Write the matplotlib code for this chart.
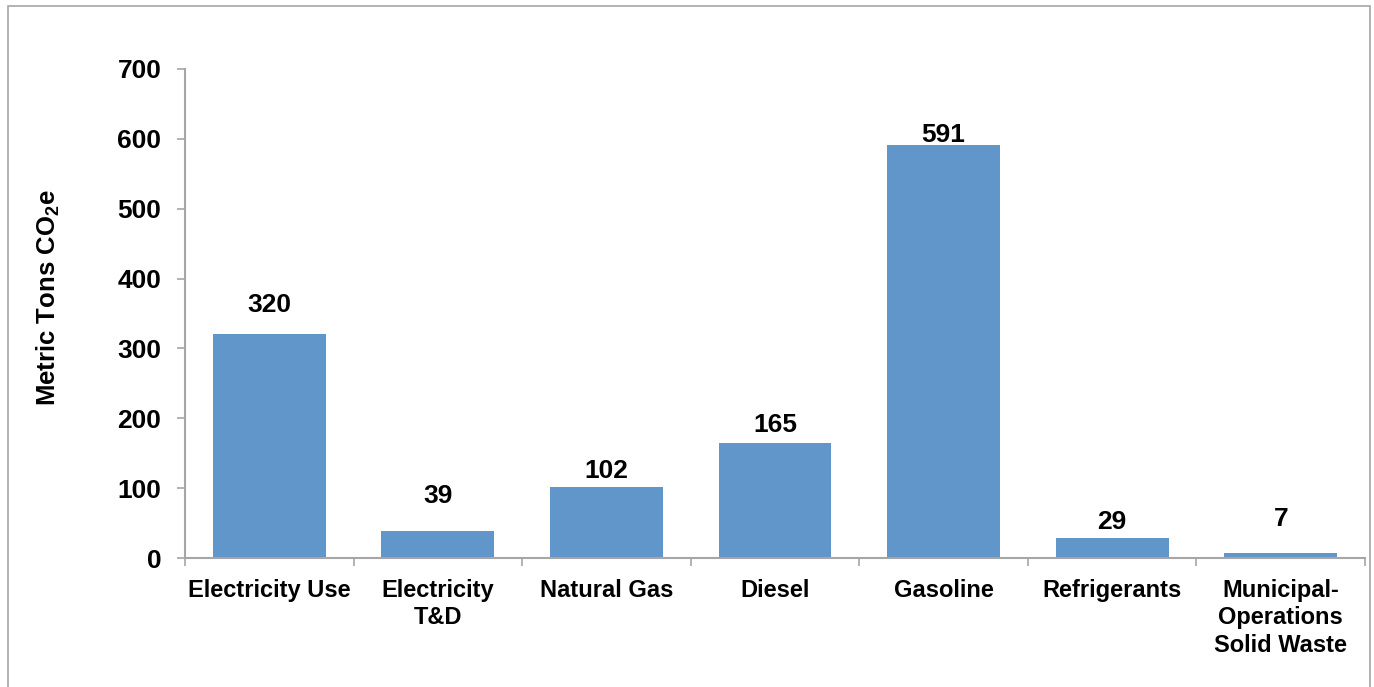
import matplotlib
matplotlib.use("Agg")
import matplotlib.pyplot as plt
from matplotlib.patches import Rectangle

categories = ["Electricity Use", "Electricity\nT&D", "Natural Gas", "Diesel",
              "Gasoline", "Refrigerants", "Municipal-\nOperations\nSolid Waste"]
values = [320, 39, 102, 165, 591, 29, 7]
y_ticks = [0, 100, 200, 300, 400, 500, 600, 700]

# gap (points) between each bar top and the baseline of its value label
label_offsets = [16, 20, 6, 8, 2, 6.5, 19.5]

plt.rcParams['font.family'] = ['Liberation Sans', 'DejaVu Sans']
plt.rcParams['mathtext.fontset'] = 'custom'
plt.rcParams['mathtext.bf'] = 'Liberation Sans:bold'
plt.rcParams['mathtext.rm'] = 'Liberation Sans:bold'

W, H = 1374, 687
fig = plt.figure(figsize=(W / 100, H / 100), dpi=100)

# light frame around the chart area
fig.patches.append(Rectangle((8 / W, -0.05), (1370 - 8) / W, 1.05 - 6 / H,
                             transform=fig.transFigure, fill=False,
                             edgecolor='#A6A6A6', linewidth=1.2))

ax = fig.add_axes([185 / W, 1 - 558 / H, (1365 - 185) / W, (558 - 69) / H])

color = '#6096C9'
x = list(range(len(categories)))
ax.bar(x, values, width=0.67, color=color, zorder=2)

ax.set_xlim(-0.5, len(categories) - 0.5)
ax.set_ylim(0, 700)
ax.set_yticks(y_ticks)
ax.set_yticklabels([str(t) for t in y_ticks], fontsize=19, fontweight='bold')

ax.set_xticks([i - 0.5 for i in range(len(categories) + 1)], minor=False)
ax.set_xticklabels([])
ax.set_xticks(x, minor=True)
ax.set_xticklabels(categories, minor=True, fontsize=17, fontweight='bold',
                   linespacing=1.25)
ax.tick_params(axis='x', which='minor', length=0, pad=15)
ax.tick_params(axis='x', which='major', length=6, width=1.2, color='#A6A6A6',
               direction='out')
ax.tick_params(axis='y', length=6, width=1.2, color='#A6A6A6', direction='out',
               pad=11)

for side in ('top', 'right'):
    ax.spines[side].set_visible(False)
for side in ('left', 'bottom'):
    ax.spines[side].set_color('#A6A6A6')
    ax.spines[side].set_linewidth(1.5)

for xi, v, off in zip(x, values, label_offsets):
    ax.annotate(str(v), (xi, v), xytext=(0, off), textcoords='offset points',
                ha='center', va='baseline', fontsize=19, fontweight='bold')

fig.text(48 / W, 1 - 298 / H, r'Metric Tons CO$_{\mathbf{2}}$e', rotation=90,
         ha='center', va='center', fontsize=18.5, fontweight='bold')

fig.savefig('out.png', dpi=100, facecolor='white')
